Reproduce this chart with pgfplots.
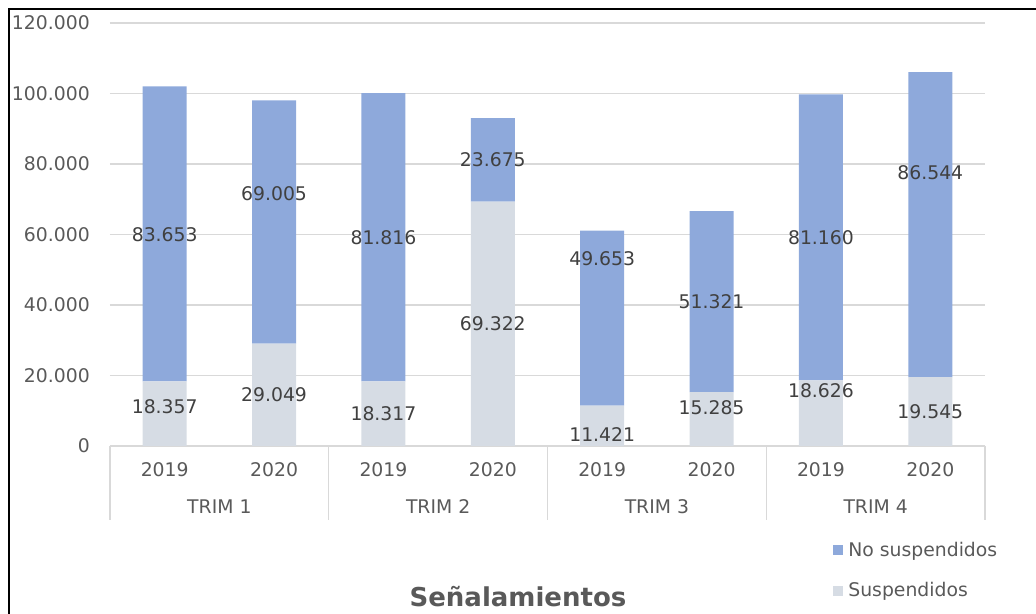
\documentclass[border=0pt]{standalone}
\usepackage{pgfplots}
\pgfplotsset{compat=1.18}
\usepackage{fontspec}
\setmainfont{DejaVu Sans}
\definecolor{nosusp}{RGB}{142,169,219}
\definecolor{susp}{RGB}{214,220,228}
\definecolor{gridc}{RGB}{217,217,217}
\definecolor{tickc}{RGB}{89,89,89}
\definecolor{labc}{RGB}{64,64,64}
\newcommand{\lblfont}{\fontsize{14.1}{16}\selectfont}

\begin{document}
\begin{tikzpicture}
\path[use as bounding box] (-82.5pt,-126pt) rectangle (694.5pt,334.5pt);
\pgfplotsset{base/.style={
    scale only axis, width=656.25pt, height=317.25pt,
    at={(0pt,0pt)}, anchor=south west,
    xmin=-0.5, xmax=7.5, ymin=0, ymax=120000,
    axis line style={draw=none}, major tick length=0pt, clip=false}}
\begin{axis}[base,
    ybar stacked, bar width=33pt,
    ytick={0,20000,...,120000},
    scaled y ticks=false,
    ymajorgrids, grid style={gridc, line width=0.8pt},
    yticklabel style={/pgf/number format/fixed, /pgf/number format/1000 sep={.},
        /pgf/number format/assume math mode=true,
        font=\lblfont, text=tickc, anchor=east, inner sep=0pt, xshift=-15pt},
    xtick={0,...,7},
    xticklabels={2019,2020,2019,2020,2019,2020,2019,2020},
    xticklabel style={font=\lblfont, text=tickc, anchor=base, inner sep=0pt, yshift=-23pt},
    reverse legend,
    legend image code/.code={\fill[#1] (0pt,-3.75pt) rectangle (7.5pt,3.75pt);},
    legend style={at={(0.826,-0.222)}, anchor=north west, draw=none, fill=none,
        font=\lblfont, text=tickc, row sep=15pt, inner sep=0pt,
        nodes={inner sep=1.5pt},
        /tikz/every odd column/.append style={column sep=2.5pt}},
    legend cell align=left,
]
\addplot[fill=susp, draw=none] coordinates {
    (0,18357) (1,29049) (2,18317) (3,69322) (4,11421) (5,15285) (6,18626) (7,19545)};
\addplot[fill=nosusp, draw=none] coordinates {
    (0,83653) (1,69005) (2,81816) (3,23675) (4,49653) (5,51321) (6,81160) (7,86544)};
\legend{Suspendidos, No suspendidos}

% category axis
\draw[gridc, line width=0.8pt] (axis cs:-0.5,0) -- (axis cs:7.5,0);
\draw[gridc, line width=0.8pt] (axis cs:-0.5,0) -- ++(0pt,-55.5pt);
\draw[gridc, line width=0.8pt] (axis cs:1.5,0) -- ++(0pt,-55.5pt);
\draw[gridc, line width=0.8pt] (axis cs:3.5,0) -- ++(0pt,-55.5pt);
\draw[gridc, line width=0.8pt] (axis cs:5.5,0) -- ++(0pt,-55.5pt);
\draw[gridc, line width=0.8pt] (axis cs:7.5,0) -- ++(0pt,-55.5pt);
\node[font=\lblfont, text=tickc, anchor=base, yshift=-51pt] at (axis cs:0.5,0) {TRIM 1};
\node[font=\lblfont, text=tickc, anchor=base, yshift=-51pt] at (axis cs:2.5,0) {TRIM 2};
\node[font=\lblfont, text=tickc, anchor=base, yshift=-51pt] at (axis cs:4.5,0) {TRIM 3};
\node[font=\lblfont, text=tickc, anchor=base, yshift=-51pt] at (axis cs:6.5,0) {TRIM 4};
\end{axis}

% data labels
\begin{axis}[base, hide axis]
\addplot[draw=none, mark=none, nodes near coords, point meta=explicit symbolic,
    every node near coord/.append style={anchor=center, font=\lblfont, text=labc}]
    coordinates {
    (0,11064) [18.357] (1,14468) [29.049] (2,9078) [18.317] (3,34610) [69.322]
    (4,3121) [11.421] (5,10780) [15.285] (6,15603) [18.626] (7,9645) [19.545]
    (0,59858) [83.653] (1,71489) [69.005] (2,59007) [81.816] (3,81135) [23.675]
    (4,53050) [49.653] (5,40851) [51.321] (6,59007) [81.160] (7,77447) [86.544]};
\end{axis}

\node[font=\fontsize{19.5}{22}\selectfont\bfseries, text=tickc] at (306pt,-113.25pt) {Señalamientos};
\draw[black, line width=1.5pt] (-76.1pt,-130pt) -- (-76.1pt,328.1pt) -- (700pt,328.1pt);
\end{tikzpicture}
\end{document}
